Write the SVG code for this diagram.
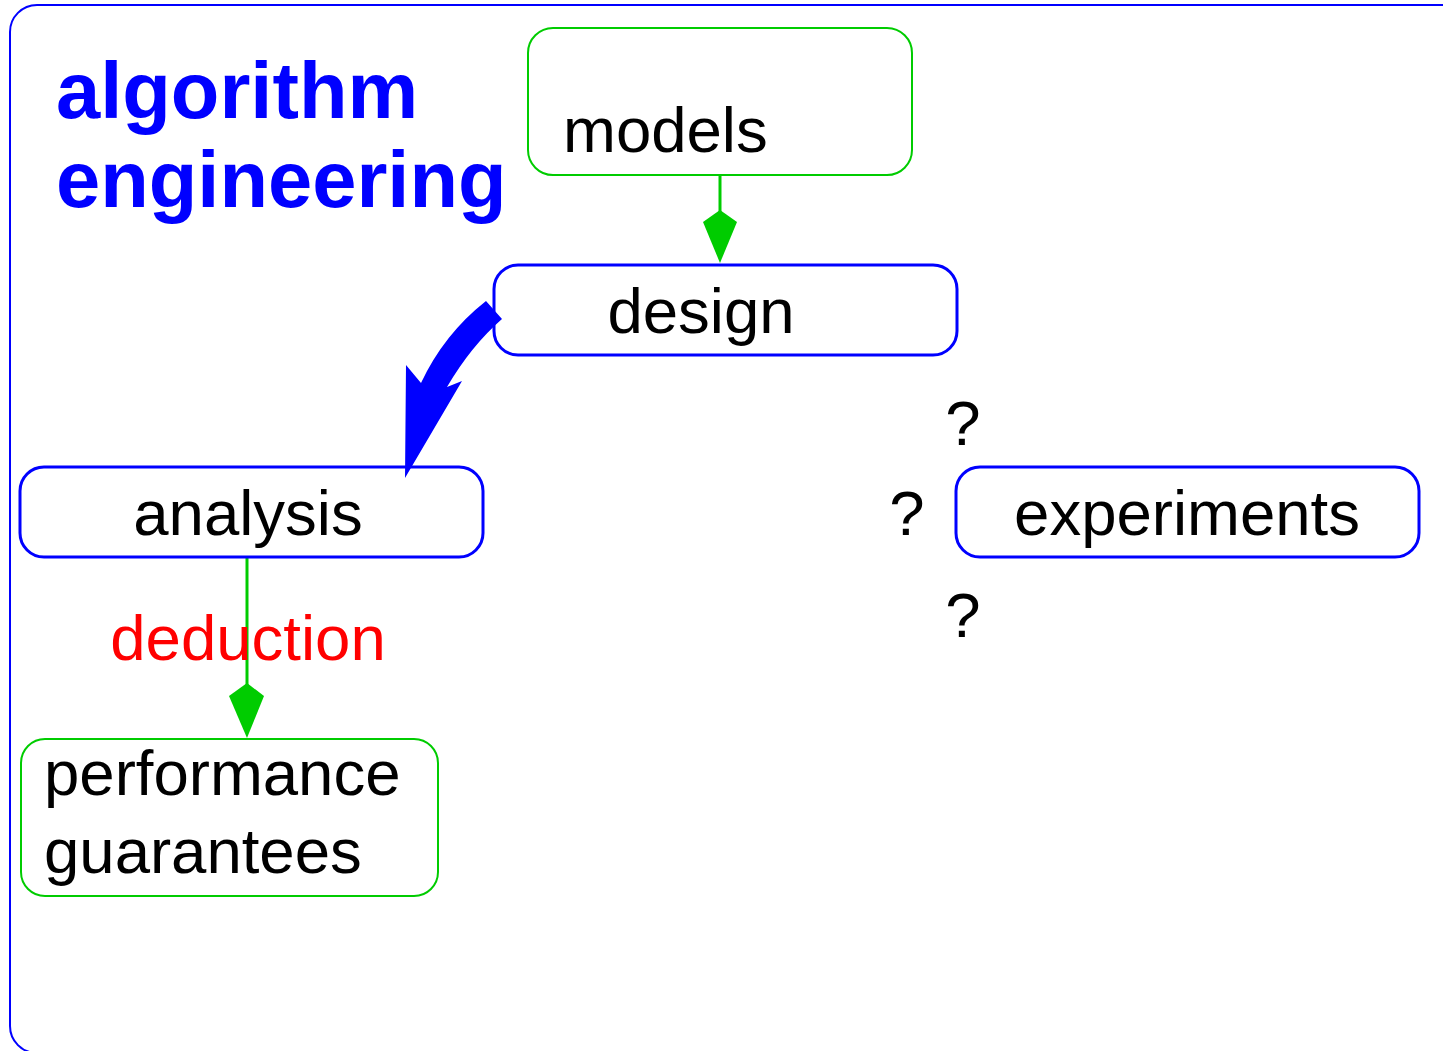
<svg xmlns="http://www.w3.org/2000/svg" width="1443" height="1051" viewBox="0 0 1443 1051">
<style>
.t{font-family:"Liberation Sans",Arial,sans-serif;font-size:63.5px;fill:#000}
.g{fill:none;stroke:#00cc00;stroke-width:2}
.b{fill:none;stroke:#0000ff;stroke-width:3}
</style>
<rect width="1443" height="1051" fill="#fff"/>
<rect x="10" y="5" width="1480" height="1048" rx="27" fill="none" stroke="#0000ff" stroke-width="2"/>
<text x="56" y="118" style="font-family:'Liberation Sans',Arial,sans-serif;font-weight:bold;font-size:79.5px;fill:#0000ff">algorithm</text>
<text x="56" y="207" style="font-family:'Liberation Sans',Arial,sans-serif;font-weight:bold;font-size:79.5px;fill:#0000ff">engineering</text>
<g id="connectors">
<line x1="720" y1="175" x2="720" y2="212" stroke="#00cc00" stroke-width="3"/>
<polygon points="720,210 703,222 720,263 737,222" fill="#00cc00"/>
<line x1="247" y1="557" x2="247" y2="685" stroke="#00cc00" stroke-width="3"/>
<polygon points="247,683 229,696 247,738 264,696" fill="#00cc00"/>
<path d="M486,301 L502,319 Q471,346 447,387 L462,381 L405,478 L406,365 L421,383 Q444,334 486,301 Z" fill="#0000ff"/>
</g>
<g id="models">
<rect x="528" y="28" width="384" height="147" rx="25" class="g"/>
<text x="563" y="152" class="t">models</text>
</g>
<g id="design">
<rect x="494" y="265" width="463" height="90" rx="24" class="b"/>
<text x="701" y="333" class="t" text-anchor="middle">design</text>
</g>
<g id="analysis">
<rect x="20" y="467" width="463" height="90" rx="24" class="b"/>
<text x="248" y="535" class="t" text-anchor="middle">analysis</text>
</g>
<g id="experiments">
<rect x="956" y="467" width="463" height="90" rx="24" class="b"/>
<text x="1187" y="535" class="t" text-anchor="middle">experiments</text>
</g>
<g id="performance">
<rect x="21" y="739" width="417" height="157" rx="24" class="g"/>
<text x="44" y="795" class="t">performance</text>
<text x="44" y="873" class="t">guarantees</text>
</g>
<text x="248" y="660" class="t" text-anchor="middle" style="fill:#ff0000">deduction</text>
<text x="963" y="445" class="t" text-anchor="middle">?</text>
<text x="907" y="535" class="t" text-anchor="middle">?</text>
<text x="963" y="637" class="t" text-anchor="middle">?</text>
</svg>
